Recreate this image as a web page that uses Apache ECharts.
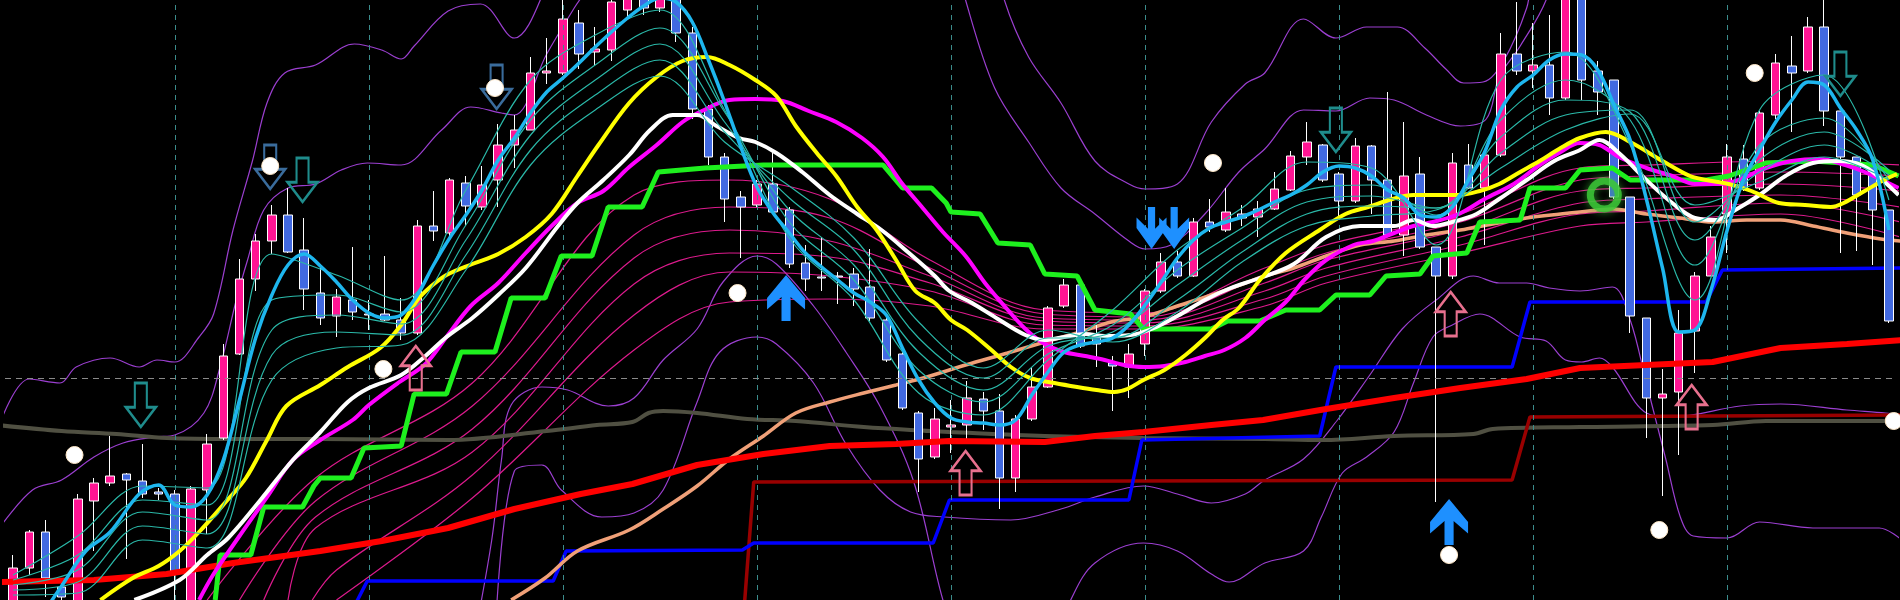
<!DOCTYPE html>
<html><head><meta charset="utf-8">
<script src="https://cdn.jsdelivr.net/npm/echarts@6/dist/echarts.min.js"></script>
<style>html,body{margin:0;padding:0;background:#000;overflow:hidden}#c{width:1900px;height:600px}</style>
</head><body><div id="c"></div><script>
// candles: [open, close, low, high]
const ohlc = [
[-5,32,-10,45],[32,68,25,70],[68,22,3,80],[13,3,-5,20],[-5,101,-10,106],[99,117,49,122],[117,124,114,164],[126,120,41,127],[119,106,102,156],[108,106,100,112],
[106,26,-5,110],[-5,111,-10,114],[110,156,66,166],[162,244,160,256],[246,321,245,341],[321,359,309,366],[359,385,346,395],[385,348,347,412],[350,311,290,382],[307,282,275,336],
[284,303,263,311],[300,288,280,353],[286,285,270,300],[286,280,279,344],[280,267,260,302],[267,374,265,380],[374,369,359,409],[367,420,363,422],[417,394,374,424],[393,415,390,434],
[420,455,393,476],[455,470,432,485],[470,527,470,543],[527,529,516,562],[527,581,525,600],[577,546,531,590],[548,551,535,573],[550,598,539,610],[590,605,580,615],[606,592,585,615],
[592,612,588,620],[612,567,558,620],[567,491,481,573],[491,443,435,495],[443,401,378,447],[403,393,342,409],[395,416,393,420],[416,388,386,447],[390,336,332,393],[337,321,309,355],
[323,322,309,363],[324,323,296,328],[326,311,294,332],[313,282,279,351],[280,240,238,286],[246,192,190,248],[187,141,108,189],[143,181,141,192],[173,175,147,200],[175,202,160,219],
[201,189,170,208],[189,122,91,206],[122,181,108,185],[181,213,179,233],[213,292,212,294],[294,315,292,321],[315,254,252,315],[263,256,233,275],[237,234,189,244],[233,246,202,256],
[256,309,244,311],[309,338,307,347],[338,324,322,349],[324,378,323,382],[378,373,368,401],[370,388,368,412],[386,382,374,395],[383,391,363,399],[391,411,390,428],[410,444,409,449],
[443,458,435,478],[455,420,418,456],[426,399,384,428],[399,454,397,462],[454,420,386,455],[420,365,363,508],[365,424,344,478],[426,353,351,443],[353,324,98,353],[324,437,321,447],
[435,412,411,456],[412,445,355,447],[445,546,443,567],[546,529,525,598],[529,535,512,577],[535,502,485,585],[502,605,500,615],[605,520,500,615],[529,508,485,539],[520,403,401,520],
[403,284,267,403],[282,202,162,282],[202,206,104,231],[208,267,145,290],[269,324,227,328],[324,363,324,374],[386,443,347,456],[441,412,409,455],[412,487,410,489],[485,537,481,546],
[534,527,468,564],[529,573,527,583],[573,489,474,600],[489,443,347,489],[443,405,349,443],[435,390,335,440],[390,279,277,390]
];
const fastMA = [[2,-10],[3,14],[4.5,49],[6,68],[7.8,106],[9,115],[10,95],[11,93],[12,105],[13,140],[14,200],[15,262],[16,305],[17,335],[18,346],[19,334],[20,318],[21,300],[22,287],[23,282],[24,285],[25,305],[26,335],[27,362],[28,385],[29,410],[30,440],[31,462],[32,487],[33,508],[34,522],[35,537],[36,553],[37,568],[38,582],[39,594],[40,602],[41,598],[42,578],[43,540],[44,498],[45,453],[46,413],[47,387],[48,367],[49,347],[50,333],[51,320],[52,307],[53,298],[54,285],[55,252],[56,220],[57,197],[58,182],[59,178],[60,177],[61,175],[62,180],[63,205],[64,228],[65,248],[66,255],[67,258],[68,262],[69,275],[70,295],[71,318],[72,342],[73,360],[74,372],[75,378],[76,383],[77,390],[78,398],[79,405],[80,415],[81,428],[82,434],[83,432],[84,424],[85,410],[86,402],[87,385],[88,383],[89,393],[90,420],[91,448],[92,490],[93,513],[94,525],[95,540],[96,546],[97,545],[98,530],[99,495],[100,460],[101,401],[102,332],[103,268],[104,270],[105,310],[106,370],[107,420],[108,450],[109,478],[110,500],[111,518],[112,515],[113,492],[114,470],[115,440],[116,370]];
const yellowMA = [[5.4,0],[7.4,22],[9,34],[10.3,49],[11.5,68],[13.2,99],[14.4,122],[15.7,160],[16.9,194],[19,215],[20.7,233],[22.7,252],[24,275],[25,300],[25.8,313],[26.8,325],[28.4,336],[30,346],[31.7,363],[33.3,386],[34.9,424],[36.2,455],[38.1,497],[39.8,523],[41.4,539],[42.9,543],[44.3,535],[45.9,520],[47.2,504],[48.4,474],[49.7,447],[50.9,424],[52.2,393],[53.4,370],[54.6,340],[55.8,309],[57,297],[58,280],[59,270],[60.5,250],[61.7,233],[62.9,222],[64.4,217],[65.8,213],[67,210],[68.1,208],[68.9,211],[69.9,220],[71.2,230],[72.5,245],[73.7,262],[74.8,280],[75.8,292],[77.1,320],[78.7,347],[80.8,370],[82.4,386],[83.8,393],[85.3,401],[86.6,405],[88.2,405],[89.4,405],[90.7,409],[91.9,416],[93.2,428],[94.4,439],[95.6,451],[96.9,462],[98.5,468],[100,458],[102,439],[103.7,424],[104.7,420],[106.1,416],[107.5,409],[109.2,397],[110.8,395],[112.4,393],[113.2,397],[114.5,409],[115.7,420],[116.5,426]];
const whiteMA = [[7.5,0],[10.3,20],[12,45],[13.3,62],[15.3,100],[17.3,140],[19,168],[20.7,198],[22,212],[24,225],[25.5,244],[26.8,263],[28.4,282],[30,305],[31.7,332],[33.7,374],[34.9,397],[36.5,420],[38.1,445],[39.4,470],[40.8,485],[42.3,485],[43.5,474],[44.9,462],[45.9,458],[47.2,447],[48.8,428],[50.5,405],[52.2,386],[53.7,370],[55.4,347],[57,324],[57.9,309],[59.3,297],[60.9,281],[62.6,265],[63.8,260],[65,263],[66.3,266],[67.5,264],[69.1,265],[70.4,271],[72,284],[73.7,300],[75.3,312],[77.1,322],[79.2,336],[81.2,363],[83.3,374],[85.4,374],[86.6,380],[87.8,374],[89,378],[90.5,386],[91.9,401],[93.6,420],[95.3,439],[96.9,450],[98.1,460],[99.3,447],[101,420],[102.6,397],[104,382],[105.3,380],[106.5,390],[108,405],[109.6,424],[111.3,437],[112.9,439],[114.3,435],[115.3,424],[116.6,405]];
const magentaMA = [[11.5,0],[12.4,26],[14,64],[15.7,103],[17.3,140],[19,160],[21,180],[22,195],[23.8,217],[25.5,236],[26.8,263],[28.3,294],[30,317],[31.7,347],[33.3,374],[34.9,397],[36.5,409],[38.1,433],[39.8,455],[41.4,478],[42.6,489],[44.3,500],[45.9,501],[47.6,499],[49.2,489],[50.9,478],[52.5,462],[53.8,443],[55,416],[56.2,393],[57.5,368],[58.9,344],[60.1,317],[61.3,294],[62.6,271],[63.8,256],[65,248],[66.3,244],[67.5,240],[68.7,235],[69.9,233],[71.2,234],[72.5,238],[73.7,244],[74.9,250],[76.2,262],[77.4,280],[78.7,298],[79.9,321],[81.2,340],[82.9,355],[84.1,359],[85.4,367],[86.6,374],[87.8,378],[89.4,386],[91,401],[92.8,416],[94.4,435],[95.6,447],[96.9,457],[98.1,455],[99.3,443],[101,432],[102.6,424],[104,416],[105.5,416],[106.7,420],[108.4,432],[110,439],[111.7,441],[113.3,435],[114.5,428],[116.6,412]];
const greenStep = [[12.5,0],[12.8,45],[14.7,45],[15.5,93],[17.9,93],[18.6,114],[19,122],[20.9,122],[21.7,152],[24,154],[24.8,206],[26.8,206],[27.7,248],[29.8,248],[30.8,302],[32.9,302],[33.9,344],[35.8,344],[36.8,393],[38.9,393],[39.9,428],[42.8,432],[46.4,435],[53.8,435],[55,412],[56.8,412],[57.7,397],[58,388],[59.8,386],[60.9,357],[62.9,355],[63.8,326],[65.8,324],[66.9,290],[69.1,286],[69.9,271],[74.1,271],[75.1,279],[77.1,279],[78.7,290],[80.8,290],[81.8,305],[83.9,305],[84.9,324],[87,326],[87.8,344],[89.9,347],[90.7,378],[93.2,380],[93.8,412],[96,412],[96.9,430],[98.9,432],[100,420],[104.7,420],[106.1,424],[108.4,437],[111.3,439],[115,435],[116.6,424]];
const salmonMA = [[30.8,0],[32.9,22],[34.9,49],[38.1,70],[40.2,91],[42.3,114],[44.3,141],[46.4,164],[48.4,187],[50.5,198],[52.6,207],[54.6,215],[56.5,223],[58.9,235],[61.5,247],[63.8,258],[65.8,267],[67.9,278],[69.9,283],[72,294],[74.1,305],[76.2,317],[77.4,324],[79.2,332],[81.2,344],[83.3,355],[85.4,359],[87.4,365],[89.5,370],[91.5,376],[93.6,382],[95.7,386],[96.9,388],[98.9,391],[101,386],[103.1,382],[105.1,378],[107.2,380],[109.3,380],[111.3,374],[113.4,367],[115.5,361],[116.7,359]];
const redMA = [[-1,18],[5,20],[9.5,26],[13.6,37],[19,49],[22.8,59],[26.9,72],[31,91],[35.1,106],[38.3,116],[42.3,135],[46.4,146],[50.5,154],[54.6,156],[57.9,159],[63.8,158],[66.9,164],[69.9,168],[74.1,175],[77.3,180],[81.2,191],[85.4,202],[89.5,212],[93.6,221],[96.9,232],[101,235],[105.1,238],[109.3,252],[113.4,256],[117,260]];
const oliveMA = [[-1,175],[3,169],[6.4,166],[9.5,162],[13.6,161],[19,161],[26.9,160],[33,169],[36.1,175],[38.3,178],[39.3,187],[40.2,189],[42.3,187],[45.4,181],[48.4,179],[52.6,173],[56.7,169],[57.9,168],[63.8,164],[69.9,162],[77.4,161],[81,160],[85.4,164],[90.3,166],[91.5,171],[96.9,173],[105.1,175],[108.4,179],[117,179]];
const blueStep = [[20.5,-30],[21.3,0],[21.9,19],[33.4,19],[34.2,49],[45.1,50],[45.8,57],[56.9,57],[57.9,100],[69,100],[69.8,160],[80.8,164],[81.8,233],[92.7,233],[93.8,298],[104.7,298],[105.7,330],[117,332]];
const darkRedStep = [[45.2,-10],[45.8,118],[92.7,120],[93.8,183],[117,185]];
const bandOuterUp = [[-0.8,177],[1,221],[2.9,217],[3.9,233],[6,242],[7.8,233],[8.9,240],[10,238],[11.5,263],[12.4,286],[13.6,370],[14.8,439],[15.7,497],[16.8,527],[18.7,535],[21.1,556],[22.8,550],[24,541],[24.8,554],[26.9,589],[28.9,596],[31,562],[32.6,600],[33.5,660],[60.5,660],[61.3,600],[62.8,543],[64.8,497],[66.9,439],[69,416],[70,411],[72,416],[74.1,478],[76.2,516],[77.4,527],[79.8,581],[81.8,562],[83.7,573],[85.6,573],[87.3,552],[88.6,531],[89.7,517],[90.9,518],[92.2,540],[93.6,592],[94.5,650],[117,680]];
const bandInnerUp = [[-0.8,73],[1.2,110],[3,120],[5,143],[6.8,157],[8.8,163],[10,165],[11.8,187],[12.8,233],[13.8,300],[14.5,340],[15.5,390],[17,412],[18.7,416],[20.3,430],[21.9,437],[24,435],[26.5,470],[28.3,493],[30.2,487],[31,485],[33,546],[34.7,592],[35.8,620],[36.5,660],[58,660],[58.9,600],[60.7,512],[62.8,458],[64.8,412],[66.9,386],[69,359],[70,351],[71.6,355],[73.7,386],[75.8,428],[77.4,451],[79.8,490],[81.8,489],[83.9,502],[85.4,500],[87.4,485],[89.5,474],[91.1,481],[91.9,523],[93.2,554],[94.8,600],[95.5,650],[117,680]];
const bandLowA = [[28.5,-40],[29.6,60],[30.2,140],[30.8,195],[32.7,213],[34.3,210],[36.8,194],[38.4,202],[40.2,240],[42.3,271],[43.9,318],[46,344],[47.2,336],[49.5,294],[51.5,248],[53.6,194],[55.7,118],[57.5,0],[58.5,-40],[64.5,-40],[65.4,0],[66.9,37],[69.9,57],[72,49],[74.1,26],[75.2,18],[77.4,37],[79.8,49],[80.9,83],[82.2,127],[83.7,143],[85.4,168],[86.6,217],[87.8,263],[89,275],[90.7,286],[93.2,263],[94.8,259],[96,240],[97,238],[98.1,242],[98.9,233],[101,187],[102.6,183],[106.8,194],[109.3,196],[113.4,190],[115.8,187],[116.8,185]];
const bandLowB = [[29.8,-40],[31,129],[32.7,135],[33.9,110],[36.4,83],[38.4,87],[40.2,110],[42.3,198],[43.7,248],[46,263],[47.2,256],[49.5,217],[51.5,156],[53.6,110],[55.5,88],[57.6,83],[61.7,80],[64.8,91],[66.9,103],[69.9,114],[72,106],[74.1,97],[76.2,106],[77.4,120],[79.8,141],[81.9,180],[83.9,225],[85.9,271],[88,300],[90.3,324],[91.9,317],[93.6,317],[95,312],[96.9,309],[98.9,313],[100,280],[101,217],[102.2,141],[103.1,83],[103.9,64],[106,62],[108,78],[111.3,72],[115.4,72],[116.8,60]];
const teal1 = [[0,25],[4,64],[8,114],[12,112],[16,346],[20,325],[24,300],[28,410],[32,520],[36,565],[40,590],[44,490],[48,362],[52,300],[56,207],[60,185],[64,240],[68,290],[72,350],[76,392],[80,438],[84,432],[88,355],[92,520],[96,548],[100,455],[104,300],[108,490],[112,525],[116,400]];
const teal2 = [[0,20],[4,45],[8,100],[12,95],[16,300],[20,305],[24,288],[28,375],[32,480],[36,535],[40,572],[44,488],[48,378],[52,320],[56,230],[60,198],[64,246],[68,275],[72,330],[76,372],[80,410],[84,415],[88,385],[92,480],[96,520],[100,480],[104,335],[108,455],[112,482],[116,420]];
const teal3 = [[0,15],[4,30],[8,88],[12,80],[16,270],[20,285],[24,276],[28,360],[32,465],[36,520],[40,556],[44,478],[48,390],[52,335],[56,248],[60,210],[64,254],[68,268],[72,315],[76,360],[80,398],[84,404],[88,392],[92,463],[96,500],[100,488],[104,360],[108,440],[112,468],[116,430]];
const teal4 = [[0,10],[4,18],[8,74],[12,66],[16,245],[20,268],[24,265],[28,345],[32,450],[36,505],[40,540],[44,468],[48,402],[52,350],[56,262],[60,222],[64,262],[68,262],[72,300],[76,348],[80,386],[84,394],[88,392],[92,447],[96,485],[100,490],[104,378],[108,428],[112,455],[116,425]];
const teal5 = [[0,5],[4,7],[8,60],[12,52],[16,220],[20,252],[24,255],[28,330],[32,435],[36,490],[40,524],[44,458],[48,414],[52,362],[56,278],[60,232],[64,270],[68,258],[72,288],[76,338],[80,374],[84,384],[88,390],[92,432],[96,470],[100,486],[104,395],[108,418],[112,443],[116,420]];
const pink1 = [[12,0],[18.7,122],[28.4,217],[38.4,405],[44.3,420],[50.5,401],[56.7,340],[63.8,290],[69.9,287],[77.4,332],[81.2,355],[89.5,386],[96.9,432],[101,435],[109.3,439],[116.7,435]];
const pink2 = [[14,0],[18.7,99],[28.4,194],[38.4,365],[44.3,393],[50.5,382],[56.7,332],[63.8,286],[69.9,283],[77.4,324],[81.2,347],[89.5,378],[96.9,420],[101,424],[109.3,428],[116.7,424]];
const pink3 = [[15.5,0],[18.7,83],[28.4,171],[38.4,342],[44.3,370],[50.5,359],[56.7,324],[63.8,282],[69.9,280],[77.4,317],[81.2,340],[89.5,370],[96.9,409],[101,412],[109.3,416],[116.7,409]];
const pink4 = [[17,0],[18.7,72],[28.4,148],[38.4,316],[44.3,347],[50.5,343],[56.7,317],[63.8,279],[69.9,277],[77.4,309],[81.2,332],[89.5,363],[96.9,397],[101,401],[109.3,405],[116.7,393]];
const pink5 = [[18.5,0],[20,30],[28.4,125],[38.4,285],[44.3,328],[50.5,324],[56.7,309],[63.8,275],[69.9,274],[77.4,301],[81.2,324],[89.5,355],[96.9,386],[101,389],[109.3,397],[116.7,378]];
const pink6 = [[20,0],[28.4,102],[38.4,250],[44.3,298],[50.5,301],[56.7,294],[63.8,271],[69.9,271],[77.4,294],[81.2,317],[89.5,347],[96.9,374],[101,378],[109.3,386],[116.7,363]];
const whiteDots = [[3.8,145],[15.9,434],[22.9,231],[29.8,512],[44.8,307],[74.2,437],[88.8,45],[101.8,70],[107.7,527],[116.3,179]];
const sellSteel = [[15.9,433],[29.9,513]];
const sellTeal = [[7.9,195],[17.9,420],[81.8,470],[113,526]];
const buyPink = [[24.9,232],[58.9,127],[88.9,286],[103.8,193]];
const buyBlue = [[47.8,302],[88.8,78]];
const sellBlue = [[70.4,372],[71.8,372]];
const greenMark = [[98.4,405]];
const gridCols = [10,22,34,46,58,70,82,94,106];
const refLevel = 222;

const chart = echarts.init(document.getElementById('c'));
const cats = ohlc.map((_, i) => String(i));
function ln(data, color, width, z, smooth) {
  return {type:'line', xAxisIndex:1, data:data, symbol:'none', showSymbol:false, silent:true,
    smooth: smooth === undefined ? 0.35 : smooth, lineStyle:{color:color, width:width}, z:z};
}
const downPath = 'path://M30,0 L70,0 L70,55 L100,55 L50,100 L0,55 L30,55 Z';
const upPath = 'path://M50,0 L100,45 L70,45 L70,100 L30,100 L30,45 L0,45 Z';
const buyBluePath = 'path://M50,0 L100,50 L100,75 L62,48 L62,100 L38,100 L38,48 L0,75 L0,50 Z';
const sellBluePath = 'path://M38,0 L62,0 L62,52 L100,25 L100,50 L50,100 L0,50 L0,25 L38,52 Z';
function marks(data, symbol, size, fill, stroke, bw, z, extra) {
  return {type:'scatter', xAxisIndex:1, data:data, symbol:symbol, symbolSize:size, silent:true, z:z||10,
    itemStyle:Object.assign({color:fill, borderColor:stroke, borderWidth:bw, opacity:1}, extra||{})};
}
const series = [
  {type:'line', xAxisIndex:1, data:oliveMA, symbol:'none', silent:true, lineStyle:{opacity:0}, z:0,
    markLine:{silent:true, symbol:'none', label:{show:false}, animation:false,
      data: gridCols.map(k => ({xAxis:k, lineStyle:{color:'#3c8c8c', type:[5,5], width:1}}))
        .concat([{yAxis:refLevel, lineStyle:{color:'#8a8a8a', type:[6,5], width:1}}])}},
  ln(bandOuterUp,'#9b3fd0',1.2,1), ln(bandInnerUp,'#9b3fd0',1.2,1), ln(bandLowA,'#9b3fd0',1.2,1), ln(bandLowB,'#9b3fd0',1.2,1),
  ln(pink1,'#dc1a8c',1.2,2), ln(pink2,'#dc1a8c',1.2,2), ln(pink3,'#dc1a8c',1.2,2), ln(pink4,'#dc1a8c',1.2,2), ln(pink5,'#dc1a8c',1.2,2), ln(pink6,'#dc1a8c',1.2,2),
  ln(oliveMA,'#505042',4,2), ln(darkRedStep,'#990000',3.5,2,false), ln(blueStep,'#0000ff',3.5,2,false),
  ln(salmonMA,'#f0a078',3.5,3),
  {type:'candlestick', xAxisIndex:0, data:ohlc, barWidth:9, silent:true, z:4,
    itemStyle:{color:'#ff1493', color0:'#4169e1', borderColor:'#ffffff', borderColor0:'#ffffff', borderWidth:1}},
  ln(redMA,'#ff0000',6,5,false),
  ln(greenStep,'#1ef01e',5,6,false),
  ln(magentaMA,'#ff00ff',4,6), ln(whiteMA,'#ffffff',4,6), ln(yellowMA,'#ffff00',4,6),
  ln(teal1,'#2ab8a8',1.2,7), ln(teal2,'#2ab8a8',1.2,7), ln(teal3,'#2ab8a8',1.2,7), ln(teal4,'#2ab8a8',1.2,7), ln(teal5,'#2ab8a8',1.2,7),
  ln(fastMA,'#1eb6ee',3.5,8),
  marks(sellSteel, downPath, [30,44], 'rgba(0,0,0,0)', '#3a6c9c', 2.5, 10),
  marks(sellTeal, downPath, [30,44], 'rgba(0,0,0,0)', '#1f8c8c', 2.5, 10),
  marks(buyPink, upPath, [30,44], 'rgba(0,0,0,0)', '#e8708e', 2.5, 10),
  marks(buyBlue, buyBluePath, [38,46], '#1e90ff', '#1e90ff', 0, 10),
  marks(sellBlue, sellBluePath, [30,42], '#1e90ff', '#1e90ff', 0, 10),
  marks(greenMark, 'circle', 28, 'rgba(0,0,0,0)', 'rgba(60,200,55,0.85)', 7, 9, {shadowBlur:8, shadowColor:'rgba(60,200,55,0.8)'}),
  marks(whiteDots, 'circle', 17, '#ffffff', '#ffe8c8', 1, 11)
];
chart.setOption({
  backgroundColor:'#000000',
  animation:false,
  grid:{left:5, top:0, width:1892, height:600, containLabel:false},
  xAxis:[{type:'category', data:cats, show:false, boundaryGap:true},
         {type:'value', min:-0.5, max:116.5, show:false}],
  yAxis:{type:'value', min:0, max:600, show:false, splitLine:{show:false}},
  series:series
});
</script></body></html>
